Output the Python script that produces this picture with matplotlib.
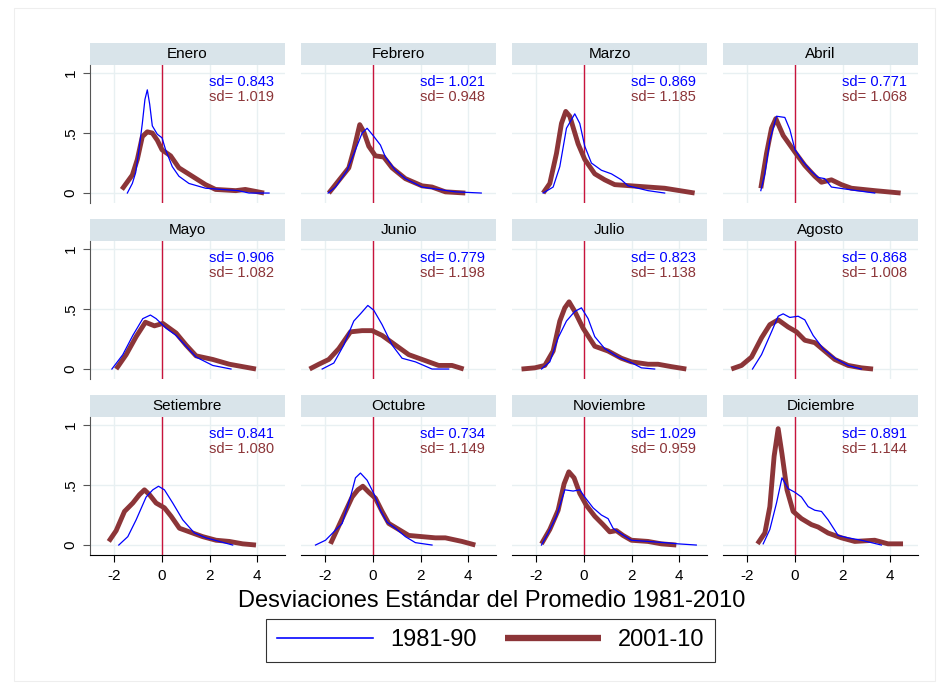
import matplotlib
matplotlib.use("Agg")
import matplotlib.pyplot as plt
from matplotlib.patches import Rectangle

plt.rcParams['font.family'] = ['Liberation Sans', 'DejaVu Sans']

months = ['Enero', 'Febrero', 'Marzo', 'Abril', 'Mayo', 'Junio',
          'Julio', 'Agosto', 'Setiembre', 'Octubre', 'Noviembre', 'Diciembre']
sd_81 = ['0.843', '1.021', '0.869', '0.771', '0.906', '0.779',
         '0.823', '0.868', '0.841', '0.734', '1.029', '0.891']
sd_01 = ['1.019', '0.948', '1.185', '1.068', '1.082', '1.198',
         '1.138', '1.008', '1.080', '1.149', '0.959', '1.144']

# densidades 1981-90 (x, y)
ene_81_x = [-1.46, -1.25, -1.11, -0.97, -0.83, -0.72, -0.62, -0.52, -0.41, -0.2, 0.0, 0.15, 0.43, 0.71, 1.13, 1.83, 2.5, 3.2, 3.66, 4.5]
ene_81_y = [0.0, 0.08, 0.17, 0.36, 0.58, 0.78, 0.86, 0.74, 0.56, 0.49, 0.46, 0.36, 0.22, 0.14, 0.08, 0.04, 0.03, 0.02, 0.0, 0.0]
feb_81_x = [-1.89, -1.58, -1.09, -0.74, -0.46, -0.25, 0.0, 0.31, 0.52, 0.94, 1.36, 2.06, 2.76, 3.46, 4.55]
feb_81_y = [0.0, 0.05, 0.19, 0.36, 0.50, 0.54, 0.48, 0.40, 0.30, 0.19, 0.12, 0.05, 0.03, 0.01, 0.0]
mar_81_x = [-1.72, -1.30, -1.02, -0.74, -0.39, -0.18, 0.03, 0.31, 0.73, 1.15, 1.57, 1.85, 2.69, 3.39]
mar_81_y = [0.0, 0.05, 0.22, 0.54, 0.66, 0.58, 0.39, 0.25, 0.19, 0.16, 0.11, 0.06, 0.02, 0.0]
abr_81_x = [-1.44, -1.27, -1.06, -0.78, -0.43, -0.22, 0.0, 0.34, 0.69, 0.97, 1.25, 1.53, 2.23, 3.35]
abr_81_y = [0.02, 0.16, 0.44, 0.64, 0.63, 0.53, 0.36, 0.26, 0.18, 0.13, 0.12, 0.05, 0.03, 0.0]
may_81_x = [-2.11, -1.65, -1.23, -0.81, -0.49, -0.25, 0.17, 0.59, 1.01, 1.43, 2.13, 2.9]
may_81_y = [0.0, 0.12, 0.28, 0.42, 0.45, 0.42, 0.34, 0.28, 0.19, 0.10, 0.03, 0.0]
jun_81_x = [-2.14, -1.65, -1.23, -0.81, -0.53, -0.22, 0.03, 0.38, 0.80, 1.22, 1.78, 2.48, 3.18]
jun_81_y = [0.0, 0.05, 0.20, 0.40, 0.46, 0.53, 0.49, 0.37, 0.20, 0.09, 0.06, 0.0, 0.0]
jul_81_x = [-1.79, -1.44, -1.09, -0.74, -0.39, -0.11, 0.17, 0.45, 0.87, 1.43, 2.02, 2.41, 2.97]
jul_81_y = [0.0, 0.06, 0.26, 0.40, 0.48, 0.51, 0.42, 0.27, 0.17, 0.10, 0.05, 0.01, 0.0]
ago_81_x = [-1.79, -1.41, -0.99, -0.71, -0.5, -0.22, 0.13, 0.41, 0.76, 1.18, 1.67, 2.23, 2.79]
ago_81_y = [0.0, 0.12, 0.31, 0.44, 0.46, 0.43, 0.44, 0.41, 0.28, 0.17, 0.09, 0.03, 0.0]
set_81_x = [-1.82, -1.44, -1.09, -0.67, -0.39, -0.15, 0.1, 0.45, 0.87, 1.36, 1.85, 2.41, 2.97]
set_81_y = [0.0, 0.07, 0.21, 0.40, 0.46, 0.49, 0.46, 0.35, 0.21, 0.10, 0.06, 0.03, 0.0]
oct_81_x = [-2.42, -2.0, -1.65, -1.30, -0.95, -0.74, -0.53, -0.25, 0.03, 0.31, 0.59, 0.94, 1.36, 1.78, 2.48]
oct_81_y = [0.0, 0.04, 0.11, 0.18, 0.40, 0.56, 0.60, 0.54, 0.43, 0.29, 0.19, 0.14, 0.07, 0.02, 0.0]
nov_81_x = [-1.79, -1.51, -1.16, -0.81, -0.46, -0.18, 0.03, 0.38, 0.73, 1.01, 1.22, 1.43, 1.99, 2.69, 3.39, 3.95, 4.72]
nov_81_y = [0.0, 0.10, 0.24, 0.46, 0.45, 0.46, 0.40, 0.31, 0.25, 0.22, 0.14, 0.11, 0.04, 0.03, 0.02, 0.01, 0.0]
dic_81_x = [-1.34, -1.06, -0.78, -0.55, -0.29, -0.01, 0.27, 0.55, 0.83, 1.11, 1.39, 1.81, 2.23, 2.79, 3.63]
dic_81_y = [0.01, 0.13, 0.35, 0.56, 0.47, 0.44, 0.40, 0.32, 0.29, 0.28, 0.21, 0.08, 0.06, 0.04, 0.0]

# densidades 2001-10
ene_01_x = [-1.69, -1.25, -1.04, -0.83, -0.62, -0.41, -0.2, 0.0, 0.36, 0.71, 1.27, 1.83, 2.25, 3.1, 3.5, 4.29]
ene_01_y = [0.03, 0.15, 0.28, 0.47, 0.51, 0.50, 0.44, 0.36, 0.31, 0.21, 0.14, 0.07, 0.03, 0.02, 0.03, 0.0]
feb_01_x = [-1.86, -1.58, -1.30, -1.02, -0.81, -0.56, -0.39, -0.18, 0.1, 0.45, 0.8, 1.36, 2.06, 2.48, 3.04, 3.88]
feb_01_y = [0.0, 0.07, 0.14, 0.21, 0.36, 0.57, 0.51, 0.39, 0.31, 0.30, 0.21, 0.12, 0.06, 0.05, 0.01, 0.0]
mar_01_x = [-1.72, -1.44, -1.16, -0.95, -0.77, -0.6, -0.25, 0.03, 0.45, 0.87, 1.29, 1.99, 2.69, 3.39, 4.65]
mar_01_y = [0.0, 0.08, 0.33, 0.58, 0.68, 0.64, 0.41, 0.28, 0.16, 0.11, 0.07, 0.06, 0.05, 0.04, 0.0]
abr_01_x = [-1.44, -1.20, -0.99, -0.81, -0.5, 0.0, 0.41, 0.83, 1.11, 1.53, 1.95, 2.37, 3.35, 4.44]
abr_01_y = [0.04, 0.33, 0.54, 0.62, 0.48, 0.34, 0.23, 0.14, 0.09, 0.11, 0.07, 0.04, 0.02, 0.0]
may_01_x = [-1.93, -1.51, -1.09, -0.70, -0.32, 0.03, 0.59, 1.01, 1.43, 2.13, 2.83, 3.95]
may_01_y = [0.0, 0.12, 0.27, 0.39, 0.36, 0.38, 0.30, 0.20, 0.11, 0.08, 0.04, 0.0]
jun_01_x = [-2.67, -2.28, -1.86, -1.44, -0.95, -0.46, -0.04, 0.38, 0.94, 1.5, 2.06, 2.76, 3.32, 3.81]
jun_01_y = [0.0, 0.04, 0.08, 0.17, 0.31, 0.32, 0.32, 0.28, 0.20, 0.12, 0.08, 0.03, 0.03, 0.0]
jul_01_x = [-2.63, -2.07, -1.65, -1.30, -1.02, -0.81, -0.63, -0.39, -0.04, 0.45, 1.01, 1.57, 1.99, 2.69, 3.11, 3.67, 4.3]
jul_01_y = [0.0, 0.01, 0.03, 0.15, 0.40, 0.51, 0.56, 0.48, 0.34, 0.19, 0.15, 0.09, 0.06, 0.04, 0.04, 0.02, 0.0]
ago_01_x = [-2.68, -2.25, -1.83, -1.41, -1.06, -0.71, -0.29, 0.06, 0.41, 0.83, 1.25, 1.67, 2.23, 2.79, 3.28]
ago_01_y = [0.0, 0.03, 0.10, 0.26, 0.37, 0.41, 0.35, 0.31, 0.24, 0.22, 0.15, 0.08, 0.03, 0.01, 0.0]
set_01_x = [-2.24, -1.93, -1.58, -1.23, -0.95, -0.74, -0.53, -0.25, 0.1, 0.38, 0.73, 1.15, 1.71, 2.27, 2.83, 3.39, 3.95]
set_01_y = [0.03, 0.12, 0.28, 0.35, 0.42, 0.46, 0.42, 0.35, 0.31, 0.24, 0.14, 0.11, 0.07, 0.04, 0.03, 0.01, 0.0]
oct_01_x = [-1.79, -1.58, -1.23, -0.88, -0.64, -0.43, -0.18, 0.1, 0.38, 0.66, 1.08, 1.50, 2.06, 2.62, 3.04, 3.74, 4.3]
oct_01_y = [0.01, 0.10, 0.25, 0.40, 0.46, 0.49, 0.44, 0.39, 0.28, 0.18, 0.13, 0.08, 0.07, 0.06, 0.06, 0.03, 0.0]
nov_01_x = [-1.79, -1.44, -1.09, -0.84, -0.64, -0.42, -0.18, 0.1, 0.45, 0.8, 1.08, 1.36, 1.64, 1.99, 2.69, 3.25, 3.88]
nov_01_y = [0.01, 0.13, 0.29, 0.51, 0.61, 0.56, 0.43, 0.33, 0.24, 0.17, 0.11, 0.12, 0.08, 0.04, 0.03, 0.01, 0.0]
dic_01_x = [-1.58, -1.27, -1.06, -0.88, -0.71, -0.55, -0.34, -0.08, 0.27, 0.69, 0.97, 1.39, 1.95, 2.51, 3.35, 3.91, 4.54]
dic_01_y = [0.01, 0.10, 0.32, 0.74, 0.97, 0.76, 0.46, 0.28, 0.22, 0.17, 0.15, 0.10, 0.06, 0.03, 0.04, 0.01, 0.01]

curves_81 = [(ene_81_x, ene_81_y), (feb_81_x, feb_81_y), (mar_81_x, mar_81_y), (abr_81_x, abr_81_y),
             (may_81_x, may_81_y), (jun_81_x, jun_81_y), (jul_81_x, jul_81_y), (ago_81_x, ago_81_y),
             (set_81_x, set_81_y), (oct_81_x, oct_81_y), (nov_81_x, nov_81_y), (dic_81_x, dic_81_y)]
curves_01 = [(ene_01_x, ene_01_y), (feb_01_x, feb_01_y), (mar_01_x, mar_01_y), (abr_01_x, abr_01_y),
             (may_01_x, may_01_y), (jun_01_x, jun_01_y), (jul_01_x, jul_01_y), (ago_01_x, ago_01_y),
             (set_01_x, set_01_y), (oct_01_x, oct_01_y), (nov_01_x, nov_01_y), (dic_01_x, dic_01_y)]

BLUE = '#0000ff'
MAROON = '#8c3538'
RED = '#c8143c'
GRID = '#e8f0f2'
STRIP = '#d9e4ea'

W, H = 938, 689
fig = plt.figure(figsize=(W / 100, H / 100), dpi=100)

for i, m in enumerate(months):
    r, c = divmod(i, 4)
    left = 90 + c * 211
    bottom = 203 + r * 176
    ax = fig.add_axes([left / W, 1 - bottom / H, 195 / W, 138 / H])
    ax.set_xlim(-3.03, 5.17)
    ax.set_ylim(-0.083, 1.067)
    ax.set_xticks([-2, 0, 2, 4])
    ax.set_yticks([0, 0.5, 1])
    ax.grid(True, color=GRID, lw=1.0)
    ax.set_axisbelow(True)
    for s in ['top', 'right']:
        ax.spines[s].set_visible(False)
    ax.spines['left'].set_color('#555555')
    ax.spines['bottom'].set_color('black')
    if c == 0:
        ax.set_yticklabels(['0', '.5', '1'], rotation=90, va='center', fontsize=11)
        ax.tick_params(axis='y', length=5, color='#555555', pad=4)
    else:
        ax.spines['left'].set_visible(False)
        ax.tick_params(axis='y', length=0, labelleft=False)
    if r == 2:
        ax.set_xticklabels(['-2', '0', '2', '4'], fontsize=11)
        ax.tick_params(axis='x', length=5, pad=5)
    else:
        ax.spines['bottom'].set_visible(False)
        ax.tick_params(axis='x', length=0, labelbottom=False)

    ax.axvline(0, color=RED, lw=1.0, zorder=2)
    x1, y1 = curves_81[i]
    x2, y2 = curves_01[i]
    l1, = ax.plot(x1, y1, color=BLUE, lw=0.9, zorder=4, label='1981-90')
    l2, = ax.plot(x2, y2, color=MAROON, lw=3.5, zorder=3, solid_capstyle='butt',
                  solid_joinstyle='round', label='2001-10')

    ax.text(0.945, 1 - 17 / 138, 'sd= ' + sd_81[i], color=BLUE, transform=ax.transAxes,
            ha='right', va='center', fontsize=10.5)
    ax.text(0.945, 1 - 32 / 138, 'sd= ' + sd_01[i], color=MAROON, transform=ax.transAxes,
            ha='right', va='center', fontsize=10.5)

    # franja del titulo
    ax.add_patch(Rectangle((0, 1), 1, 22 / 138, transform=ax.transAxes, facecolor=STRIP,
                           edgecolor='none', clip_on=False))
    ax.text(0.5, 1 + 11 / 138, m, transform=ax.transAxes, ha='center', va='center', fontsize=11)

fig.text(492 / W, 1 - 601 / H, 'Desviaciones Estándar del Promedio 1981-2010',
         ha='center', va='center', fontsize=17)

leg = fig.legend([l1, l2], ['1981-90', '2001-10'], loc='center', ncol=2,
                 bbox_to_anchor=(490.5 / W, 1 - 640.5 / H), fontsize=17, frameon=True,
                 fancybox=False, edgecolor='black', handlelength=4.1, handletextpad=0.7,
                 columnspacing=1.2, borderpad=0.45)
leg.get_frame().set_linewidth(0.8)
for h in leg.get_lines():
    h.set_linewidth(h.get_linewidth() * 1.3)

# marco exterior tenue
fig.add_artist(Rectangle((14 / W, 8 / H), 921 / W, 673 / H, transform=fig.transFigure,
                         facecolor='none', edgecolor='#eeeeee', lw=0.8))

fig.savefig('out.png', dpi=100)
